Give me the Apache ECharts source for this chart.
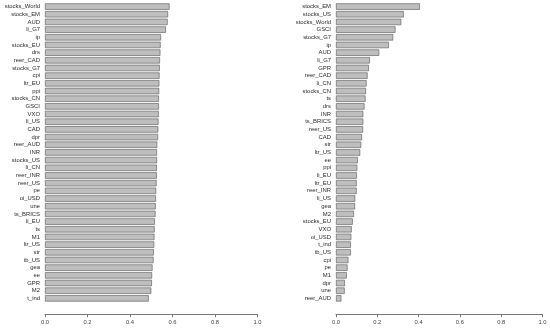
<!DOCTYPE html>
<html>
<head>
<meta charset="utf-8">
<script src="https://cdn.jsdelivr.net/npm/echarts@6/dist/echarts.min.js"></script>
<style>html,body{margin:0;padding:0;background:#fff;}#c{width:550px;height:332px;}</style>
</head>
<body>
<div id="c"></div>
<script>
const leftCats = ["stocks_World","stocks_EM","AUD","li_G7","ip","stocks_EU","drs","reer_CAD","stocks_G7","cpi","ltr_EU","ppi","stocks_CN","GSCI","VXO","li_US","CAD","dpr","reer_AUD","INR","stocks_US","li_CN","reer_INR","reer_US","pe","oi_USD","une","ts_BRICS","li_EU","ts","M1","ltr_US","str","tb_US","gea","ee","GPR","M2","t_ind"];
const leftVals = [0.586,0.579,0.577,0.569,0.546,0.544,0.543,0.541,0.540,0.539,0.538,0.537,0.536,0.536,0.535,0.534,0.533,0.532,0.528,0.527,0.527,0.526,0.526,0.525,0.523,0.522,0.521,0.520,0.517,0.516,0.515,0.514,0.512,0.511,0.506,0.504,0.503,0.500,0.488];
const rightCats = ["stocks_EM","stocks_US","stocks_World","GSCI","stocks_G7","ip","AUD","li_G7","GPR","reer_CAD","li_CN","stocks_CN","ts","drs","INR","ts_BRICS","reer_US","CAD","str","ltr_US","ee","ppi","li_EU","ltr_EU","reer_INR","li_US","gea","M2","stocks_EU","VXO","oi_USD","t_ind","tb_US","cpi","pe","M1","dpr","une","reer_AUD"];
const rightVals = [0.406,0.328,0.316,0.288,0.277,0.256,0.209,0.164,0.159,0.153,0.148,0.145,0.143,0.138,0.132,0.132,0.131,0.126,0.122,0.117,0.106,0.103,0.101,0.100,0.100,0.093,0.092,0.087,0.081,0.076,0.074,0.072,0.072,0.060,0.056,0.052,0.043,0.042,0.026];
const xTicks = ["0.0","0.2","0.4","0.6","0.8","1.0"];

const chart = echarts.init(document.getElementById('c'), null, {renderer:'canvas'});
const font = 'Liberation Sans, Arial, sans-serif';
function xAx(gi){
  return {
    type:'value', gridIndex:gi, min:0, max:1, interval:0.2, offset:12,
    axisLine:{show:true, lineStyle:{color:'#777', width:1}},
    axisTick:{show:true, length:3, lineStyle:{color:'#777'}},
    splitLine:{show:false},
    axisLabel:{margin:5, fontSize:5.8, color:'#444', fontFamily:font,
      formatter:function(v){ return xTicks[Math.round(v/0.2)]; }}
  };
}
function yAx(gi, cats){
  return {
    type:'category', gridIndex:gi, data:cats, inverse:true,
    axisLine:{show:false}, axisTick:{show:false}, splitLine:{show:false},
    axisLabel:{margin:5, fontSize:5.9, color:'#2a2a2a', fontFamily:font, interval:0}
  };
}
const barStyle = {color:'#BEBEBE', borderColor:'#555', borderWidth:0.6};
chart.setOption({
  animation:false,
  backgroundColor:'#fff',
  grid:[
    {left:45, width:212.5, top:2.7, height:299.5},
    {left:336, width:206.5, top:2.7, height:299.5}
  ],
  xAxis:[xAx(0), xAx(1)],
  yAxis:[yAx(0, leftCats), yAx(1, rightCats)],
  series:[
    {type:'bar', xAxisIndex:0, yAxisIndex:0, data:leftVals, barCategoryGap:'16.7%', itemStyle:barStyle},
    {type:'bar', xAxisIndex:1, yAxisIndex:1, data:rightVals, barCategoryGap:'16.7%', itemStyle:barStyle}
  ]
});
</script>
</body>
</html>
